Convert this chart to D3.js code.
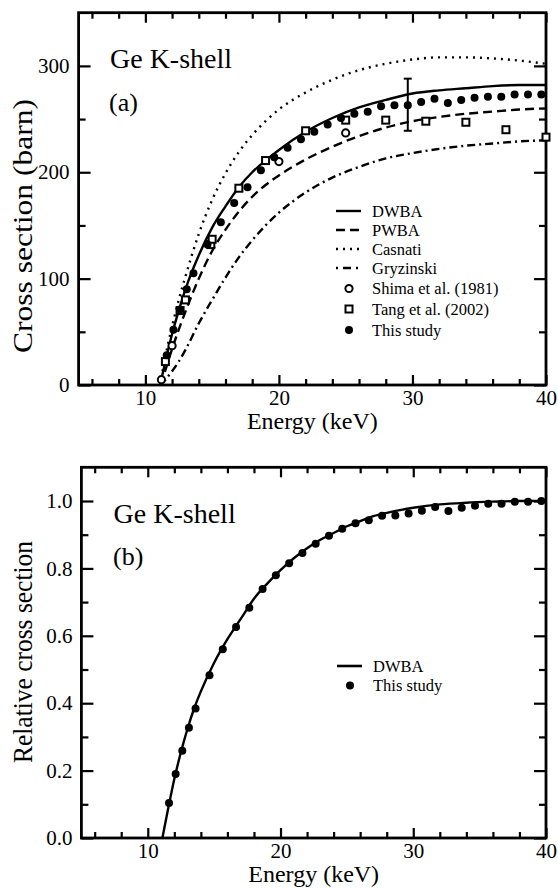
<!DOCTYPE html>
<html>
<head>
<meta charset="utf-8">
<script src="https://cdn.jsdelivr.net/npm/d3@7"></script>
<style>
html,body{margin:0;padding:0;background:#fff;}
svg{display:block;}
</style>
</head>
<body>
<svg id="chart" width="558" height="888"></svg>
<script>
// ---------------- DATA ----------------
const xMajorTicks = [10, 20, 30, 40];
const xMinorTicks = [6, 8, 12, 14, 16, 18, 22, 24, 26, 28, 32, 34, 36, 38];
const topYMajorTicks = [0, 100, 200, 300];
const topYMinorTicks = [50, 150, 250];
const botYMajorTicks = [0, 0.2, 0.4, 0.6, 0.8, 1.0];
const botYMinorTicks = [0.1, 0.3, 0.5, 0.7, 0.9];

// theory curves, panel (a), barn
const curveEnergy = [11.1, 11.5, 12, 12.5, 13, 14, 15, 16, 17, 18, 19, 20, 22, 24, 26, 28, 30, 32, 34, 36, 38, 40];
const dwba      = [0, 22, 48, 70, 90, 122, 148, 168, 186, 200, 211, 221, 238, 251, 261, 268, 274, 277, 279, 281, 282, 282];
const pwba      = [0, 14, 34, 52, 69, 100, 126, 146, 163, 177, 188, 197, 212, 224, 234, 242, 248, 252, 255, 257, 259, 260];
const casnati   = [0, 27, 55, 80, 102, 142, 174, 199, 219, 235, 248, 259, 275, 287, 296, 302, 306, 308, 308, 307, 305, 302];
const gryzinski = [0, 5, 13, 22, 33, 58, 80, 101, 120, 136, 150, 162, 181, 195, 205, 213, 218, 222, 225, 227, 229, 230];

// measurements, panel (a)
const studyEnergy = [11.6, 12.1, 12.6, 13.1, 13.6, 14.65, 15.65, 16.65, 17.65, 18.65, 19.65, 20.65, 21.65, 22.65, 23.65, 24.65, 25.65, 26.65, 27.65, 28.65, 29.65, 30.65, 31.65, 32.65, 33.65, 34.65, 35.65, 36.65, 37.65, 38.65, 39.65];
const studySigma  = [28, 52, 71, 90, 105, 132, 153, 171, 186, 202, 214, 223, 231, 238, 245, 251, 255, 257, 262, 263, 263, 266, 269, 265, 268, 270, 271, 271, 273, 273, 273];
const errorEnergy = [29.65];
const errorLow    = [239];
const errorHigh   = [288];
const shimaEnergy = [11.2, 12.0, 20.0, 25.0];
const shimaSigma  = [5, 37, 210, 237];
const tangEnergy  = [11.5, 12.6, 13.0, 14.9, 15.0, 17.0, 19.0, 22.0, 25.0, 28.0, 31.0, 34.0, 37.0, 40.0];
const tangSigma   = [22, 70, 80, 132, 137, 185, 211, 239, 249, 249, 248, 247, 240, 233];

// panel (b): relative
const relCurveEnergy = [11.1, 11.5, 12, 12.5, 13, 13.5, 14, 15, 16, 17, 18, 19, 20, 21, 22, 23, 24, 25, 26, 27, 28, 29, 30, 32, 34, 36, 38, 40];
const relDwba = [0, 0.08, 0.175, 0.255, 0.325, 0.385, 0.435, 0.52, 0.59, 0.65, 0.71, 0.755, 0.795, 0.83, 0.86, 0.885, 0.905, 0.925, 0.94, 0.955, 0.965, 0.973, 0.98, 0.99, 0.995, 0.998, 1.0, 1.0];
const relStudy = [0.104, 0.19, 0.259, 0.327, 0.384, 0.483, 0.56, 0.626, 0.683, 0.739, 0.78, 0.815, 0.846, 0.873, 0.897, 0.918, 0.934, 0.943, 0.956, 0.957, 0.963, 0.971, 0.982, 0.97, 0.98, 0.986, 0.992, 0.992, 0.998, 0.998, 1.0];

const legendA = ["DWBA", "PWBA", "Casnati", "Gryzinski", "Shima et al. (1981)", "Tang et al. (2002)", "This study"];
const legendB = ["DWBA", "This study"];

// ---------------- DRAW ----------------
const FONT = "'Liberation Serif','Times New Roman',Times,serif";
const svg = d3.select("#chart");
const zip = (xs, ys) => xs.map((x, i) => [x, ys[i]]);

function makePanel(box, yDomain, yMajor, yMinor, yFmt) {
  const x = d3.scaleLinear().domain([5, 40]).range([box.l, box.r]);
  const y = d3.scaleLinear().domain(yDomain).range([box.b, box.t]);
  const g = svg.append("g");

  const styleAxis = (sel) => {
    sel.select(".domain").remove();
    sel.selectAll(".tick line").attr("stroke", "#000").attr("stroke-width", 2.2);
    sel.selectAll(".tick text").attr("font-family", FONT).attr("font-size", 21).attr("fill", "#000");
  };
  g.append("g").attr("transform", `translate(0,${box.b})`)
    .call(d3.axisBottom(x).tickValues(xMajorTicks).tickSize(-10).tickPadding(5).tickFormat(d3.format("d"))).call(styleAxis);
  g.append("g").attr("transform", `translate(0,${box.b})`)
    .call(d3.axisBottom(x).tickValues(xMinorTicks).tickSize(-6).tickFormat("")).call(styleAxis);
  g.append("g").attr("transform", `translate(0,${box.t})`)
    .call(d3.axisTop(x).tickValues(xMajorTicks).tickSize(-10).tickFormat("")).call(styleAxis);
  g.append("g").attr("transform", `translate(0,${box.t})`)
    .call(d3.axisTop(x).tickValues(xMinorTicks).tickSize(-6).tickFormat("")).call(styleAxis);
  g.append("g").attr("transform", `translate(${box.l},0)`)
    .call(d3.axisLeft(y).tickValues(yMajor).tickSize(-12).tickPadding(9).tickFormat(yFmt)).call(styleAxis);
  g.append("g").attr("transform", `translate(${box.l},0)`)
    .call(d3.axisLeft(y).tickValues(yMinor).tickSize(-7).tickFormat("")).call(styleAxis);
  g.append("g").attr("transform", `translate(${box.r},0)`)
    .call(d3.axisRight(y).tickValues(yMajor).tickSize(-12).tickFormat("")).call(styleAxis);
  g.append("g").attr("transform", `translate(${box.r},0)`)
    .call(d3.axisRight(y).tickValues(yMinor).tickSize(-7).tickFormat("")).call(styleAxis);

  g.append("rect").attr("x", box.l).attr("y", box.t)
    .attr("width", box.r - box.l).attr("height", box.b - box.t)
    .attr("fill", "none").attr("stroke", "#000").attr("stroke-width", 2.8);

  const clipId = "clip" + Math.round(box.t);
  svg.append("clipPath").attr("id", clipId).append("rect")
    .attr("x", box.l).attr("y", box.t).attr("width", box.r - box.l).attr("height", box.b - box.t);
  return { x, y, g, clipId };
}

function curve(p, pts, dash) {
  const line = d3.line().x(d => p.x(d[0])).y(d => p.y(d[1])).curve(d3.curveMonotoneX);
  p.g.append("path").datum(pts).attr("d", line)
    .attr("fill", "none").attr("stroke", "#000").attr("stroke-width", 2.4)
    .attr("stroke-dasharray", dash || null).attr("clip-path", `url(#${p.clipId})`);
}
function filledDots(p, pts) {
  p.g.append("g").selectAll("circle").data(pts).join("circle")
    .attr("cx", d => p.x(d[0])).attr("cy", d => p.y(d[1])).attr("r", 4).attr("fill", "#000");
}
function openDots(p, pts) {
  p.g.append("g").selectAll("circle").data(pts).join("circle")
    .attr("cx", d => p.x(d[0])).attr("cy", d => p.y(d[1])).attr("r", 3.6)
    .attr("fill", "#fff").attr("stroke", "#000").attr("stroke-width", 2);
}
function squares(p, pts) {
  p.g.append("g").selectAll("rect").data(pts).join("rect")
    .attr("x", d => p.x(d[0]) - 3.5).attr("y", d => p.y(d[1]) - 3.5)
    .attr("width", 7).attr("height", 7)
    .attr("fill", "#fff").attr("stroke", "#000").attr("stroke-width", 2);
}
function text(str, x, y, size, opts = {}) {
  const t = svg.append("text").attr("x", x).attr("y", y).text(str)
    .attr("font-family", FONT).attr("font-size", size).attr("fill", "#000");
  if (opts.anchor) t.attr("text-anchor", opts.anchor);
  if (opts.rotate) t.attr("transform", `rotate(-90,${x},${y})`);
  if (opts.len) t.attr("textLength", opts.len).attr("lengthAdjust", "spacingAndGlyphs");
  return t;
}

// ---------- Panel (a) ----------
const boxA = { l: 78.6, r: 546, t: 12.7, b: 385 };
const A = makePanel(boxA, [0, 350], topYMajorTicks, topYMinorTicks, d3.format("d"));
curve(A, zip(curveEnergy, casnati), "2,5");
curve(A, zip(curveEnergy, gryzinski), "8,4,2,4");
curve(A, zip(curveEnergy, pwba), "9,5");
curve(A, zip(curveEnergy, dwba));

errorEnergy.forEach((e, i) => {
  const xe = A.x(e);
  A.g.append("line").attr("x1", xe).attr("x2", xe).attr("y1", A.y(errorLow[i])).attr("y2", A.y(errorHigh[i]))
    .attr("stroke", "#000").attr("stroke-width", 2);
  [errorLow[i], errorHigh[i]].forEach(v => A.g.append("line")
    .attr("x1", xe - 4).attr("x2", xe + 4).attr("y1", A.y(v)).attr("y2", A.y(v))
    .attr("stroke", "#000").attr("stroke-width", 2));
});
squares(A, zip(tangEnergy, tangSigma));
openDots(A, zip(shimaEnergy, shimaSigma));
filledDots(A, zip(studyEnergy, studySigma));

text("Ge K-shell", 110, 68, 28);
text("(a)", 109, 111, 26);
text("Energy (keV)", (boxA.l + boxA.r) / 2, 429, 24, { anchor: "middle" });
text("Cross section (barn)", 32, 226, 28, { anchor: "middle", rotate: true, len: 254 });

// legend (a)
const legRowsA = [211, 230, 249, 268, 288.5, 309, 330];
const lx1 = 336, lx2 = 361, ltx = 372;
const dashes = [null, "9,5", "2,5", "2,5,8,5"];
legendA.forEach((lab, i) => {
  const yy = legRowsA[i];
  if (i < 4) {
    A.g.append("line").attr("x1", lx1).attr("x2", lx2).attr("y1", yy).attr("y2", yy)
      .attr("stroke", "#000").attr("stroke-width", 2.4).attr("stroke-dasharray", dashes[i]);
  } else if (i === 4) {
    A.g.append("circle").attr("cx", 349).attr("cy", yy).attr("r", 3.6).attr("fill", "#fff").attr("stroke", "#000").attr("stroke-width", 2);
  } else if (i === 5) {
    A.g.append("rect").attr("x", 345.5).attr("y", yy - 3.5).attr("width", 7).attr("height", 7).attr("fill", "#fff").attr("stroke", "#000").attr("stroke-width", 2);
  } else {
    A.g.append("circle").attr("cx", 349).attr("cy", yy).attr("r", 4).attr("fill", "#000");
  }
  text(lab, ltx, yy + 5.5, 16.5);
});

// ---------- Panel (b) ----------
const boxB = { l: 81.4, r: 546, t: 467.3, b: 838 };
const B = makePanel(boxB, [0, 1.1], botYMajorTicks, botYMinorTicks, d3.format(".1f"));
curve(B, zip(relCurveEnergy, relDwba));
filledDots(B, zip(studyEnergy, relStudy));

text("Ge K-shell", 113.6, 523, 28);
text("(b)", 113, 565, 26);
text("Energy (keV)", (boxB.l + boxB.r) / 2, 882, 24, { anchor: "middle" });
text("Relative cross section", 32, 652, 28, { anchor: "middle", rotate: true, len: 222 });

// legend (b)
B.g.append("line").attr("x1", 337).attr("x2", 362).attr("y1", 666).attr("y2", 666)
  .attr("stroke", "#000").attr("stroke-width", 2.6);
text(legendB[0], 373, 671.5, 16.5);
B.g.append("circle").attr("cx", 350).attr("cy", 685.5).attr("r", 4).attr("fill", "#000");
text(legendB[1], 373, 691, 16.5);
</script>
</body>
</html>
